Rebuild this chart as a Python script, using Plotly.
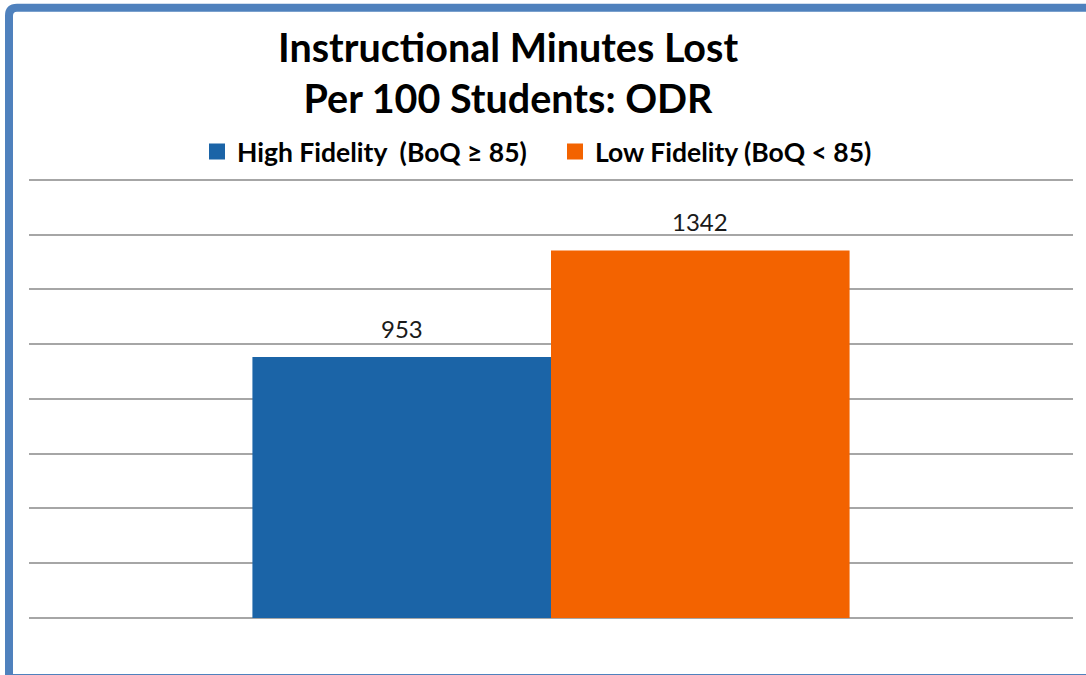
import plotly.graph_objects as go

# ---- data ----
category = ["ODR"]
series_names = ["High Fidelity  (BoQ \u2265 85)", "Low Fidelity (BoQ < 85)"]
series_values = [953, 1342]
series_colors = ["#1B64A7", "#F36300"]
y_max = 1600
y_step = 200

W, H = 1086, 675
Y_TOP = 1610  # a little above last gridline so it is drawn
L, R, B = 29, 13, 57
PX_PER_UNIT = 438 / 1600
T = (H - B) - Y_TOP * PX_PER_UNIT
PW, PH = W - L - R, H - T - B


def px_x(px):
    return (px - L) / PW


def px_y(py):
    return (H - B - py) / PH


fig = go.Figure()
for name, val, col in zip(series_names, series_values, series_colors):
    fig.add_trace(go.Bar(x=category, y=[val], name=name, marker_color=col,
                         marker_line_width=0, showlegend=False))
    fig.add_trace(go.Scatter(x=[None], y=[None], mode="markers", name=name,
                             marker=dict(symbol="square", size=17, color=col,
                                         line=dict(width=0)),
                             showlegend=True))

# value labels above bars
bar_w_px = PW * (1 - 0.428) / len(series_values)
for i, val in enumerate(series_values):
    offset = (i - (len(series_values) - 1) / 2) * bar_w_px
    fig.add_annotation(x=0, y=val, xref="x", yref="y", text=str(val),
                       showarrow=False, yanchor="bottom", yshift=12, xshift=offset,
                       font=dict(family="Lato", size=24, color="#1a1a1a"))

# title
fig.add_annotation(x=px_x(508), y=px_y(21), xref="paper", yref="paper",
                   text="<b>Instructional Minutes Lost</b><br><b>Per 100 Students: ODR</b>",
                   showarrow=False, xanchor="center", yanchor="top",
                   font=dict(family="Lato", size=39.5, color="#000000"))

# frame
x0, x1 = px_x(9), px_x(1100)
y0, y1 = px_y(678), px_y(8)
rx, ry = 8 / PW, 8 / PH
path = (f"M {x0},{y0} L {x0},{y1 - ry} Q {x0},{y1} {x0 + rx},{y1} "
        f"L {x1},{y1} L {x1},{y0} Z")
fig.add_shape(type="path", path=path, xref="paper", yref="paper",
              line=dict(color="#4F81BD", width=8), fillcolor="rgba(0,0,0,0)")

fig.update_layout(
    width=W, height=H,
    margin=dict(l=L, r=R, t=T, b=B, autoexpand=False),
    paper_bgcolor="white", plot_bgcolor="white",
    barmode="group", bargap=0.428, bargroupgap=0,
    legend=dict(orientation="h", x=px_x(209 - 12), xanchor="left",
                y=px_y(152), yanchor="middle",
                font=dict(family="Lato", size=26.5, color="#000000", weight="bold"),
                itemsizing="trace", bgcolor="rgba(0,0,0,0)", entrywidth=313),
    xaxis=dict(showticklabels=False, showgrid=False, zeroline=False,
               showline=False, ticks=""),
    yaxis=dict(range=[0, Y_TOP], dtick=y_step, showticklabels=False,
               showgrid=True, gridcolor="#A6A6A6", gridwidth=1.5,
               zeroline=True, zerolinecolor="#A6A6A6", zerolinewidth=1.5,
               showline=False, ticks=""),
)

fig.write_html("out.html", post_script="document.body.style.margin='0';",
               config={"displayModeBar": False})
